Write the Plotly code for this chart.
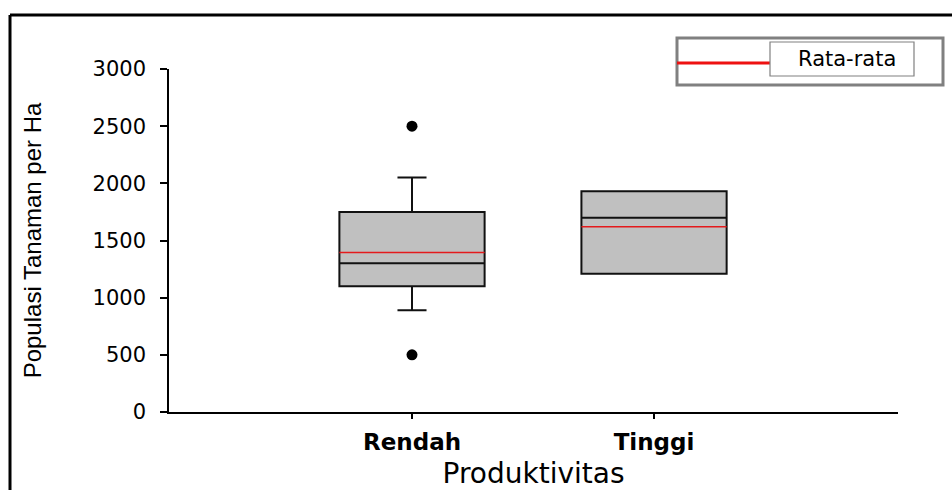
import plotly.graph_objects as go

# Data: plant population per hectare by productivity class
categories = ["Rendah", "Tinggi"]
q1 = [1100, 1210]
median = [1300, 1700]
q3 = [1750, 1930]
lower_whisker = [890, 1210]
upper_whisker = [2050, 1930]
means = [1395, 1620]
outliers = [[500, 2500], []]
y_ticks = [0, 500, 1000, 1500, 2000, 2500, 3000]

W, H = 952, 490
L, R, T, B = 169, 898, 69, 412  # plot area in pixels
BOX_W = 0.6

def px_x(p):
    return (p - L) / (R - L)

def px_y(p):
    return (B - p) / (B - T)

fig = go.Figure()

for i, name in enumerate(categories):
    fig.add_trace(go.Box(
        x=[i], q1=[q1[i]], median=[median[i]], q3=[q3[i]],
        lowerfence=[lower_whisker[i]], upperfence=[upper_whisker[i]],
        width=BOX_W, whiskerwidth=0.2,
        fillcolor="#c0c0c0", line=dict(color="#111111", width=2),
        boxpoints=False, name=name, showlegend=False, hoverinfo="skip",
    ))
    # mean line across the box
    fig.add_trace(go.Scatter(
        x=[i - BOX_W / 2, i + BOX_W / 2], y=[means[i], means[i]],
        mode="lines", line=dict(color="#e41a1c", width=1.6),
        showlegend=False, hoverinfo="skip",
    ))
    if outliers[i]:
        fig.add_trace(go.Scatter(
            x=[i] * len(outliers[i]), y=outliers[i], mode="markers",
            marker=dict(color="black", size=11, symbol="circle"),
            showlegend=False, hoverinfo="skip",
        ))

sans = "DejaVu Sans, Arial, sans-serif"

fig.update_layout(
    width=W, height=H,
    margin=dict(l=L, r=W - R, t=T, b=H - B, pad=0),
    paper_bgcolor="white", plot_bgcolor="white",
    xaxis=dict(
        range=[-1.004, 2.008], tickvals=[0, 1], ticktext=categories,
        showline=True, linecolor="black", linewidth=1.5,
        ticks="outside", ticklen=5, tickwidth=1.5, tickcolor="black",
        showgrid=False, zeroline=False, automargin=False,
        tickfont=dict(family=sans, size=23, color="black", weight="bold"),
        ticklabelstandoff=4,
        title=dict(text="Produktivitas", standoff=24,
                   font=dict(family=sans, size=28, color="black")),
    ),
    yaxis=dict(
        range=[0, 3000], tickvals=y_ticks,
        showline=True, linecolor="black", linewidth=1.5,
        ticks="outside", ticklen=7, tickwidth=1.5, tickcolor="black",
        showgrid=False, zeroline=False, automargin=False,
        tickfont=dict(family=sans, size=21, color="black"),
        ticklabelstandoff=10,
        title=dict(text="Populasi Tanaman per Ha", standoff=44,
                   font=dict(family="Liberation Sans, Arial, sans-serif",
                             size=24, color="black")),
    ),
    shapes=[
        # outer frame: left and top edges
        dict(type="line", xref="paper", yref="paper",
             x0=px_x(10), x1=px_x(10), y0=px_y(H), y1=px_y(15),
             line=dict(color="black", width=3), layer="above"),
        dict(type="line", xref="paper", yref="paper",
             x0=px_x(10), x1=px_x(W), y0=px_y(15), y1=px_y(15),
             line=dict(color="black", width=3), layer="above"),
        # legend frame
        dict(type="rect", xref="paper", yref="paper",
             x0=px_x(677), x1=px_x(943), y0=px_y(85), y1=px_y(38),
             line=dict(color="#808080", width=3), fillcolor="white", layer="above"),
        dict(type="line", xref="paper", yref="paper",
             x0=px_x(677), x1=px_x(770), y0=px_y(63), y1=px_y(63),
             line=dict(color="#ee1111", width=3), layer="above"),
        dict(type="rect", xref="paper", yref="paper",
             x0=px_x(770), x1=px_x(914), y0=px_y(76), y1=px_y(42),
             line=dict(color="#808080", width=1.2), fillcolor="white", layer="above"),
    ],
    annotations=[
        dict(text="Rata-rata", xref="paper", yref="paper",
             x=px_x(847), y=px_y(59), xanchor="center", yanchor="middle",
             showarrow=False,
             font=dict(family=sans, size=21, color="black")),
    ],
)

fig.write_html("out.html")
